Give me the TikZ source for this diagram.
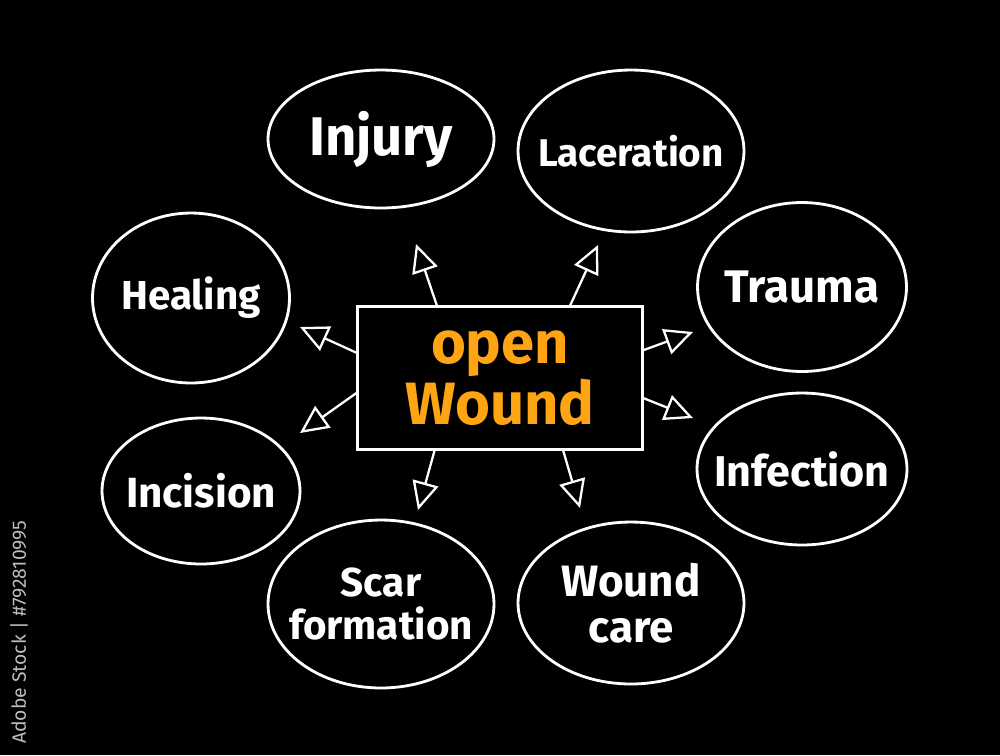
\documentclass[tikz,border=0pt]{standalone}
\usepackage{fontspec}
\setmainfont{Fira Sans}
\usetikzlibrary{arrows.meta, shapes.geometric}
\definecolor{board}{HTML}{000000}
\definecolor{chalk}{HTML}{FFFFFF}
\definecolor{flame}{HTML}{FFA514}
\definecolor{stamp}{HTML}{BDBDBD}

\begin{document}
\begin{tikzpicture}[x=0.02cm, y=-0.02cm,
    bubble/.style={ellipse, draw=chalk, line width=1.6pt, text=chalk,
                   inner xsep=-9.5pt, inner ysep=0pt, align=center},
    hub/.style={draw=chalk, line width=1.4pt, minimum width=5.7cm,
                minimum height=2.86cm, text=flame, align=center},
    spoke/.style={draw=chalk, line width=1.3pt,
                  -{Triangle[open, length=16pt, width=15pt]}}]
  \fill[board] (0,0) rectangle (1000,755);
  \useasboundingbox (0,0) rectangle (1000,755);

  % centre
  \node[hub, font=\bfseries\fontsize{34}{33}\selectfont] (ow) at (500,378) {open\\ Wound};

  % topics
  \node[bubble, minimum width=4.52cm, minimum height=2.76cm,
        font=\bfseries\fontsize{31}{30}\selectfont] (inj) at (381,139) {Injury};
  \node[bubble, minimum width=4.52cm, minimum height=3.24cm,
        font=\bfseries\fontsize{22}{23}\selectfont] (lac) at (631,151) {Laceration};
  \node[bubble, minimum width=3.94cm, minimum height=3.4cm,
        font=\bfseries\fontsize{23}{25}\selectfont] (hea) at (191,298) {Healing};
  \node[bubble, minimum width=4.18cm, minimum height=3.38cm,
        font=\bfseries\fontsize{26}{27}\selectfont] (tra) at (802,287) {Trauma};
  \node[bubble, minimum width=3.96cm, minimum height=2.92cm,
        font=\bfseries\fontsize{24}{25}\selectfont] (inc) at (201,491) {Incision};
  \node[bubble, minimum width=4.2cm, minimum height=3.04cm,
        font=\bfseries\fontsize{24.5}{25}\selectfont] (inf) at (802,469) {Infection};
  \node[bubble, minimum width=4.52cm, minimum height=3.36cm,
        font=\bfseries\fontsize{23}{25}\selectfont] (sca) at (381,604) {Scar\\ formation};
  \node[bubble, minimum width=4.52cm, minimum height=3.24cm,
        font=\bfseries\fontsize{25}{26}\selectfont] (woc) at (631,603) {Wound\\ care};

  % arrow tips
  \coordinate (t1) at (416,244);
  \coordinate (t2) at (598,245);
  \coordinate (t3) at (300,327);
  \coordinate (t4) at (300,433);
  \coordinate (t5) at (693,332);
  \coordinate (t6) at (693,418);
  \coordinate (t7) at (418,510);
  \coordinate (t8) at (580,508);

  \draw[spoke] (ow.131) -- (t1);
  \draw[spoke] (ow.46) -- (t2);
  \draw[spoke] (ow.170) -- (t3);
  \draw[spoke] (ow.186) -- (t4);
  \draw[spoke] (ow.11) -- (t5);
  \draw[spoke] (ow.352) -- (t6);
  \draw[spoke] (ow.228) -- (t7);
  \draw[spoke] (ow.311) -- (t8);

  \node[rotate=90, text=stamp, font=\fontsize{11}{12}\selectfont] (id) at (19,632)
    {Adobe Stock | \#792810995};
\end{tikzpicture}
\end{document}
